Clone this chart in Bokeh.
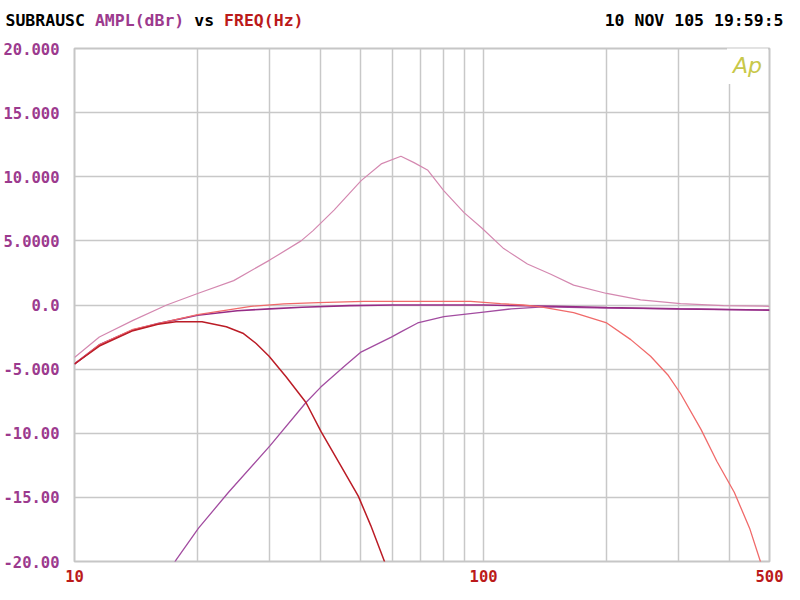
from bokeh.plotting import figure
from bokeh.layouts import column, row
from bokeh.models import FixedTicker, Label, CustomJSTickFormatter, Range1d
from bokeh.embed import file_html
from bokeh.resources import INLINE

# ---- data ----
# Pink: peaked response
freq_peak = [10, 11.5, 13.9, 16.8, 20, 24.5, 30, 35.8, 38.3, 43.1, 50.2, 56.2, 62.8, 67.6, 73.1,
             80, 89.6, 99, 112, 128, 146, 166, 200, 242, 303, 386, 500]
ampl_peak = [-4.1, -2.5, -1.2, 0.0, 0.9, 1.9, 3.5, 5.0, 5.8, 7.4, 9.7, 11.0, 11.6, 11.1, 10.5,
             8.9, 7.2, 6.0, 4.4, 3.2, 2.4, 1.55, 0.9, 0.4, 0.1, -0.05, -0.1]

# Dark red: low-frequency low-pass
freq_lp = [10, 11.5, 13.9, 16, 17.7, 20.5, 23.5, 25.8, 27.8, 29.9, 32.9, 36.8, 40.1, 44.9, 49.4,
           53, 57.1, 58]
ampl_lp = [-4.6, -3.2, -2.0, -1.5, -1.3, -1.3, -1.7, -2.2, -3.0, -4.0, -5.6, -7.6, -9.9, -12.6, -14.9,
           -17.2, -19.9, -20.6]

# Purple: high-pass
freq_hp = [17.4, 17.7, 20.1, 23.8, 30, 36.8, 40, 45.6, 50, 59.5, 62.8, 69, 80, 100, 117, 140, 200, 300, 500]
ampl_hp = [-20.3, -19.9, -17.4, -14.6, -11.0, -7.6, -6.4, -4.8, -3.7, -2.5, -2.1, -1.4, -0.9, -0.55,
           -0.3, -0.15, -0.25, -0.3, -0.4]

# Dark purple: sum
freq_sum = [10, 11.5, 13.9, 16, 20, 25, 30, 36, 47, 60, 100, 150, 200, 300, 500]
ampl_sum = [-4.6, -3.1, -1.95, -1.45, -0.8, -0.45, -0.3, -0.18, -0.05, 0.0, 0.0, -0.1, -0.2, -0.3, -0.4]

# Salmon: band response with upper roll-off
freq_band = [10, 11.5, 13.9, 16, 20, 27, 32.5, 39.4, 51, 93, 110, 125, 138, 166, 200, 229, 256, 283,
             303, 340, 372, 410, 447, 474, 480]
ampl_band = [-4.6, -3.1, -1.9, -1.45, -0.75, -0.1, 0.08, 0.18, 0.28, 0.28, 0.1, 0.0, -0.15, -0.6, -1.4,
             -2.7, -4.0, -5.5, -6.9, -9.7, -12.2, -14.6, -17.4, -19.9, -20.5]

x_ticks = [10, 100, 500]
x_grid = [20, 30, 40, 50, 60, 70, 80, 90, 100, 200, 300, 400]
y_ticks = [20, 15, 10, 5, 0, -5, -10, -15, -20]
y_tick_labels = ["20.000", "15.000", "10.000", "5.0000", "0.0", "-5.000", "-10.00", "-15.00", "-20.00"]

title_parts = ["SUBRAUSC", "AMPL(dBr)", "vs", "FREQ(Hz)"]
date_text = "10 NOV 105 19:59:5"

PURPLE = "#9c3a8e"
DRED = "#bb1a1a"
MONO = "DejaVu Sans Mono"

# ---- header strip ----
TOP_H = 36
head = figure(width=784, height=TOP_H, x_range=Range1d(0, 784), y_range=Range1d(0, TOP_H),
              output_backend="svg", toolbar_location=None,
              min_border_left=0, min_border_right=0, min_border_top=0, min_border_bottom=0,
              x_axis_location=None, y_axis_location=None)
head.grid.visible = False
head.outline_line_color = None
cw = 0.602 * 16.5
colors = ["black", PURPLE, "black", DRED]
offs = [0, 9, 19, 22]
for txt, col, off in zip(title_parts, colors, offs):
    head.add_layout(Label(x=5 + off * cw, y=TOP_H - 20, x_units="screen", y_units="screen", text=txt,
                          text_font=MONO, text_font_style="bold", text_font_size="16.5px",
                          text_color=col, text_baseline="middle", text_align="left"))
head.add_layout(Label(x=783, y=TOP_H - 20, x_units="screen", y_units="screen", text=date_text,
                      text_font=MONO, text_font_style="bold", text_font_size="16.5px",
                      text_color="black", text_baseline="middle", text_align="right"))

# ---- main chart ----
p = figure(width=784, height=584 - TOP_H, x_axis_type="log", x_range=Range1d(10, 500),
           y_range=Range1d(-20, 20), output_backend="svg", toolbar_location=None,
           min_border_left=73, min_border_right=15, min_border_top=12, min_border_bottom=20)
p.background_fill_color = "white"
p.border_fill_color = "white"
p.outline_line_color = "#c6c6c6"
p.outline_line_width = 2

p.xgrid.ticker = FixedTicker(ticks=x_grid)
p.ygrid.ticker = FixedTicker(ticks=y_ticks)
for g in (p.xgrid, p.ygrid):
    g.grid_line_color = "#c8c8c8"
    g.grid_line_width = 1.5

for ax in (p.xaxis, p.yaxis):
    ax.axis_line_color = None
    ax.major_tick_line_color = None
    ax.minor_tick_line_color = None
    ax.major_label_text_font = MONO
    ax.major_label_text_font_style = "bold"
    ax.major_label_text_font_size = "15.5px"
p.xaxis.ticker = FixedTicker(ticks=x_ticks)
p.xaxis.formatter = CustomJSTickFormatter(code="return Math.round(tick).toString();")
p.xaxis.major_label_text_color = DRED
p.xaxis.major_label_standoff = 2
p.yaxis.ticker = FixedTicker(ticks=y_ticks)
p.yaxis.major_label_text_color = PURPLE
p.yaxis.major_label_standoff = 9
p.yaxis.formatter = CustomJSTickFormatter(args=dict(vals=y_ticks, labs=y_tick_labels), code="""
    for (let i = 0; i < vals.length; i++) { if (Math.abs(vals[i] - tick) < 1e-9) return labs[i]; }
    return '';
""")

p.line(freq_peak, ampl_peak, line_color="#d488b0", line_width=1.2)
p.line(freq_hp, ampl_hp, line_color="#a24ca0", line_width=1.3)
p.line(freq_sum, ampl_sum, line_color="#962c86", line_width=1.6)
p.line(freq_band, ampl_band, line_color="#f06a6a", line_width=1.3)
p.line(freq_lp, ampl_lp, line_color="#bb1c26", line_width=1.5)

p.add_layout(Label(x=673, y=496, x_units="screen", y_units="screen", text="Ap",
                   text_font="DejaVu Sans", text_font_style="italic", text_font_size="22px",
                   text_color="#c8c84a", text_baseline="middle", text_align="center",
                   background_fill_color="white", padding=6))

open("out.html", "w").write(file_html(column(row(head), p), INLINE))
